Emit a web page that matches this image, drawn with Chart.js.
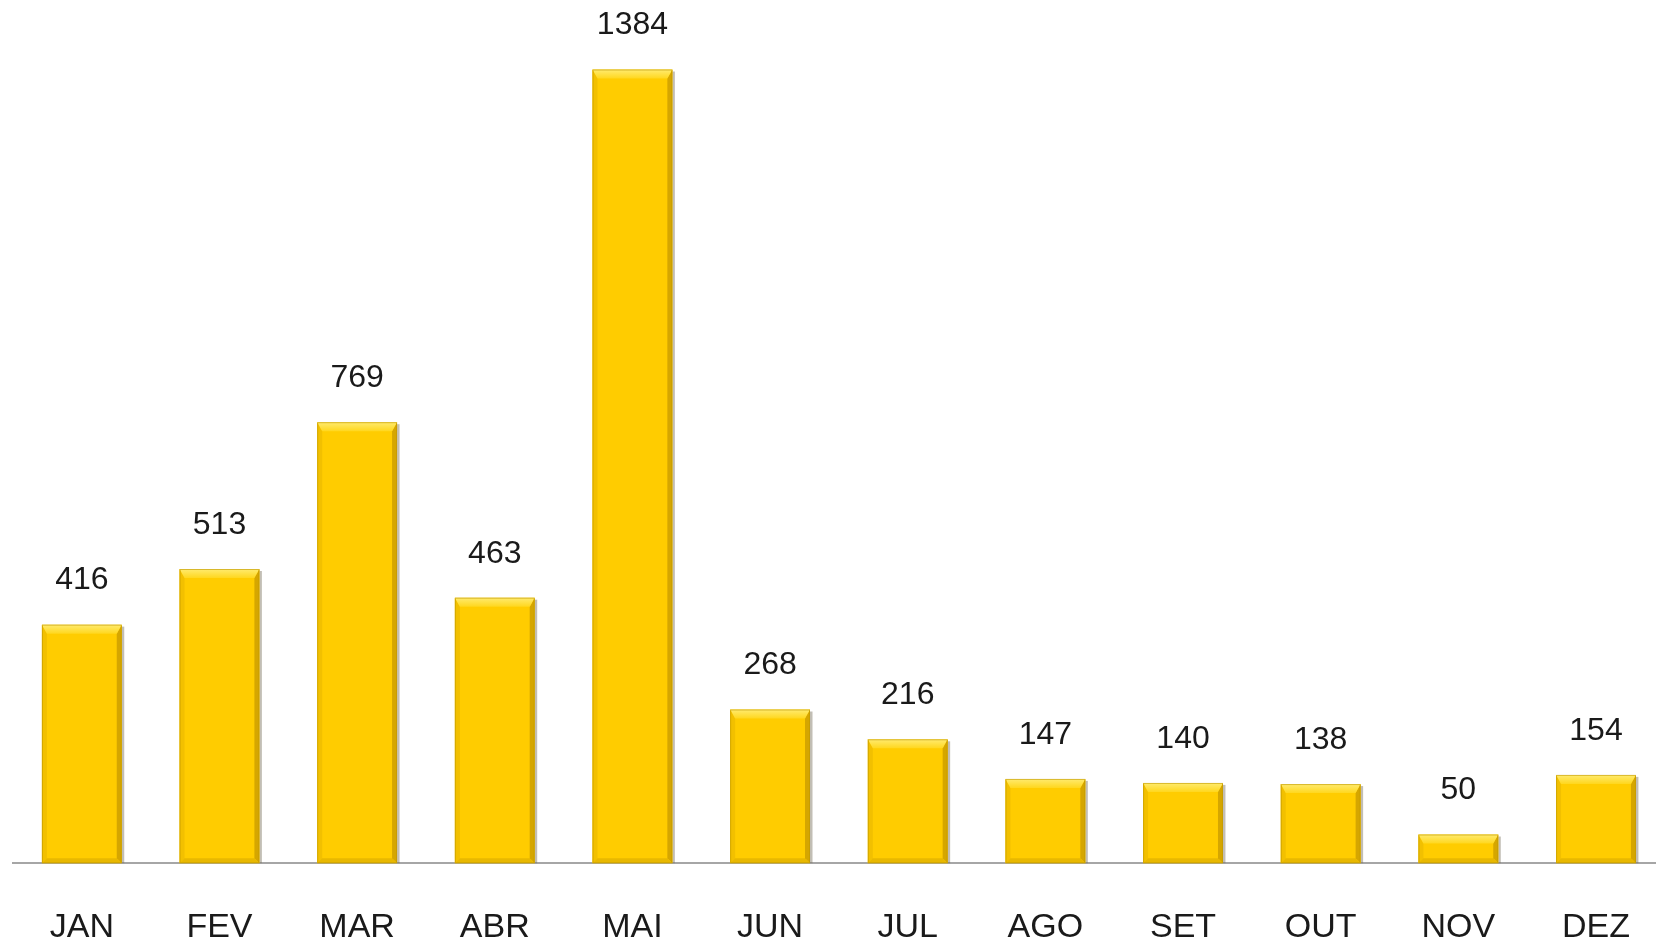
<!DOCTYPE html>
<html>
<head>
<meta charset="utf-8">
<script src="https://cdn.jsdelivr.net/npm/chart.js@4.4.1/dist/chart.umd.min.js"></script>
<style>
  html, body { margin: 0; padding: 0; background: #fff; overflow: hidden; }
  #wrap { position: relative; width: 1666px; height: 984px; }
</style>
</head>
<body>
<div id="wrap"><canvas id="c"></canvas></div>
<script>
// monthly totals
const months = ['JAN', 'FEV', 'MAR', 'ABR', 'MAI', 'JUN', 'JUL', 'AGO', 'SET', 'OUT', 'NOV', 'DEZ'];
const values = [416, 513, 769, 463, 1384, 268, 216, 147, 140, 138, 50, 154];

const FONT = '"Liberation Sans", Arial, sans-serif';

// bevel look drawn over each bar, using the bar elements Chart.js laid out
const bevelPlugin = {
  id: 'bevel',
  beforeDatasetsDraw(chart) {
    const ctx = chart.ctx;
    chart.getDatasetMeta(0).data.forEach(bar => {
      const r = bar.x + bar.width / 2;
      ctx.save();
      ctx.fillStyle = 'rgba(120,110,90,0.45)';
      ctx.fillRect(r, bar.y + 2, 2.5, bar.base - bar.y - 2);
      ctx.restore();
    });
  },
  afterDatasetsDraw(chart) {
    const ctx = chart.ctx;
    chart.getDatasetMeta(0).data.forEach(bar => {
      const l = bar.x - bar.width / 2, r = bar.x + bar.width / 2;
      const t = bar.y, b = bar.base;
      const h = b - t;
      const bt = Math.min(9, h / 2.5), bs = Math.min(5, h / 4), bb = Math.min(5, h / 5);
      ctx.save();
      // left side
      ctx.fillStyle = '#F2C000';
      ctx.beginPath();
      ctx.moveTo(l, t); ctx.lineTo(l + bs, t + bt); ctx.lineTo(l + bs, b - bb); ctx.lineTo(l, b);
      ctx.closePath(); ctx.fill();
      // right side
      ctx.fillStyle = '#D5A600';
      ctx.beginPath();
      ctx.moveTo(r, t); ctx.lineTo(r - bs, t + bt); ctx.lineTo(r - bs, b - bb); ctx.lineTo(r, b);
      ctx.closePath(); ctx.fill();
      // bottom
      ctx.fillStyle = '#E8B800';
      ctx.beginPath();
      ctx.moveTo(l, b); ctx.lineTo(l + bs, b - bb); ctx.lineTo(r - bs, b - bb); ctx.lineTo(r, b);
      ctx.closePath(); ctx.fill();
      // top
      const g = ctx.createLinearGradient(0, t, 0, t + bt);
      g.addColorStop(0, '#FFEB70');
      g.addColorStop(1, '#FFD71E');
      ctx.fillStyle = g;
      ctx.beginPath();
      ctx.moveTo(l, t); ctx.lineTo(r, t); ctx.lineTo(r - bs, t + bt); ctx.lineTo(l + bs, t + bt);
      ctx.closePath(); ctx.fill();
      // thin edge
      ctx.strokeStyle = 'rgba(190,150,0,0.6)';
      ctx.lineWidth = 1;
      ctx.strokeRect(l + 0.5, t + 0.5, bar.width - 1, h - 1);
      ctx.restore();
    });
  },
  afterDraw(chart) {
    const ctx = chart.ctx;
    ctx.save();
    ctx.font = '32px ' + FONT;
    ctx.fillStyle = '#1a1a1a';
    ctx.textAlign = 'center';
    ctx.textBaseline = 'middle';
    chart.getDatasetMeta(0).data.forEach((bar, i) => {
      ctx.fillText(values[i], bar.x, bar.y - 44);
    });
    ctx.restore();
  }
};

new Chart(document.getElementById('c'), {
  type: 'bar',
  data: {
    labels: months,
    datasets: [{
      data: values,
      backgroundColor: '#FFCC00',
      borderWidth: 0,
      categoryPercentage: 1,
      barPercentage: 0.58
    }]
  },
  options: {
    responsive: true,
    maintainAspectRatio: false,
    animation: false,
    layout: { padding: { left: 13, right: 0, top: 3, bottom: 0 } },
    plugins: { legend: { display: false }, tooltip: { enabled: false } },
    scales: {
      y: { display: false, min: 0, max: 1500 },
      x: {
        grid: { display: false },
        border: { display: true, color: '#a6a6a6', width: 2 },
        ticks: {
          color: '#1a1a1a',
          font: { family: FONT, size: 34 },
          padding: 36,
          maxRotation: 0
        }
      }
    }
  },
  plugins: [bevelPlugin]
});
</script>
</body>
</html>
